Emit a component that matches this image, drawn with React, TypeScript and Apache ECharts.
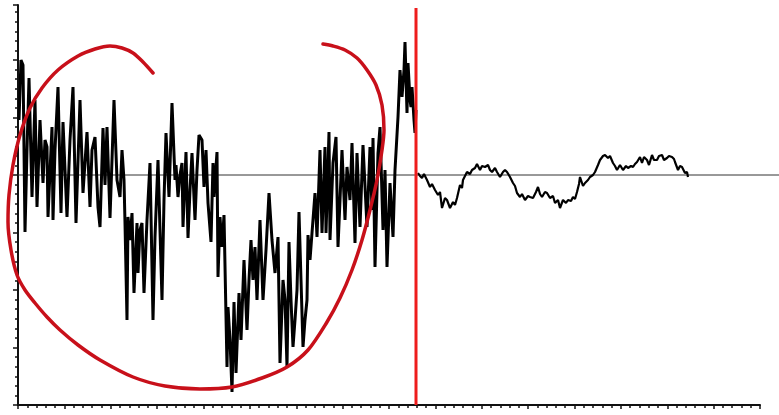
import React, { useEffect, useRef } from "react";
import * as echarts from "echarts";

// Noisy segment (before the red marker)
const leftX = [1,3,5,7,9,11,14,17,19,22,25,27,29,30,34,35,37,40,43,45,47,49,52,55,58,62,65,69,72,74,77,80,82,85,87,89,92,94,96,99,102,104,106,107,109,110,112,114,116,119,120,122,124,126,129,132,135,137,140,142,144,146,148,151,154,157,158,160,162,164,165,168,170,172,174,177,179,181,184,186,188,190,193,195,196,199,200,202,204,206,209,210,212,214,216,218,221,223,226,229,231,233,235,237,239,242,245,248,251,254,257,260,262,265,267,269,271,273,275,277,279,281,283,285,287,289,290,292,294,297,299,302,304,307,308,311,312,315,318,320,322,324,327,329,332,334,337,339,342,345,349,352,354,355,357,360,362,365,367,369,372,375,377,380,382,384,386,387,389,390,392,393,394,396,397,398];
const leftY = [55,115,110,-57,25,97,-22,75,-32,55,-8,35,28,-42,48,-45,25,88,-38,53,5,-42,35,88,-48,75,-18,43,-32,25,38,-32,-52,47,-10,48,-43,15,75,-5,-22,25,-5,-48,-145,-42,-65,-38,-118,-48,-98,-55,-48,-118,-45,12,-145,-62,15,-55,-125,-25,42,-22,72,-5,10,-22,0,12,-52,23,-63,-15,22,-45,5,40,35,-12,25,-28,-67,12,-22,23,-102,-42,-72,-40,-192,-132,-165,-217,-127,-198,-118,-165,-85,-155,-105,-65,-105,-72,-125,-45,-125,-75,-18,-65,-98,-62,-188,-105,-125,-192,-67,-125,-172,-145,-115,-37,-105,-172,-145,-125,-60,-85,-58,-18,-62,25,-58,28,-58,43,-65,12,38,-72,-25,25,-45,8,-25,32,-68,22,-52,30,-52,28,-35,37,-92,22,48,-55,5,-92,-8,-62,5,58,105,78,105,133,62,112,75,68,88,55,42,65];

// Smoother segment (after the red marker)
const rightX = [400,402,404,406,409,412,414,417,420,422,424,427,429,432,435,437,439,442,444,445,449,452,454,457,459,462,464,467,470,472,474,477,479,482,485,487,489,492,495,497,499,502,504,507,510,512,515,518,520,522,524,527,529,532,535,537,540,542,545,548,550,553,555,557,559,561,562,565,567,570,572,575,577,580,582,585,587,590,592,595,597,599,602,605,608,610,613,615,617,619,622,624,626,629,631,634,636,639,641,644,646,649,651,654,656,657,660,662,664,666,667,669,670];
const rightY = [2,-1,-3,1,-5,-12,-9,-15,-20,-17,-33,-23,-25,-33,-27,-30,-23,-10,-13,-5,3,1,5,7,11,5,9,8,10,5,3,7,3,-2,3,5,3,-2,-8,-11,-18,-22,-19,-25,-21,-22,-23,-17,-12,-19,-22,-17,-18,-23,-21,-28,-25,-33,-25,-28,-25,-26,-22,-24,-17,-9,-2,-11,-8,-5,-2,0,3,10,15,19,20,17,19,12,9,5,10,5,9,7,9,8,11,13,18,12,18,15,10,20,15,15,19,20,15,17,19,18,16,13,5,9,8,4,2,3,-2];

// Red hand-drawn annotation loop
const loopX = [135,125,115,104,92,77,60,40,24,12,2,-5,-9,-10,-7,-1,7,17,29,42,60,82,115,147,182,214,244,269,290,309,322,334,344,352,359,364,366,364,358,349,339,327,315,305];
const loopY = [102,113,122,127,129,126,119,105,87,67,40,10,-20,-47,-75,-100,-115,-128,-142,-155,-170,-185,-202,-211,-214,-212,-203,-192,-175,-147,-123,-95,-65,-35,-5,25,45,70,90,105,117,125,129,131];

// Red vertical marker and zero baseline
const markerX = [398, 398];
const markerY = [-230, 167];
const baseX = [0, 761];
const baseY = [0, 0];

const zip = (xs: number[], ys: number[]) => xs.map((x, i) => [x, ys[i]]);

export default function App() {
  const ref = useRef<HTMLDivElement>(null);
  useEffect(() => {
    if (!ref.current) return;
    const chart = echarts.init(ref.current, null, { renderer: "svg" });
    const hiddenAxis = {
      type: "value",
      show: false,
      axisLine: { show: false },
      axisTick: { show: false },
      axisLabel: { show: false },
      splitLine: { show: false },
    };
    chart.setOption({
      animation: false,
      backgroundColor: "#ffffff",
      grid: [
        { left: 18, right: 19, top: 5, bottom: 10, outerBoundsMode: "none" },
        { left: 0, right: 0, top: 0, bottom: 0, outerBoundsMode: "none" },
      ],
      xAxis: [
        {
          type: "value",
          gridIndex: 0,
          min: 0,
          max: 742,
          interval: 46.375,
          axisLine: { show: true, onZero: false, lineStyle: { color: "#111", width: 2 } },
          axisTick: { show: true, length: 4, lineStyle: { color: "#111", width: 1.5 } },
          minorTick: { show: true, splitNumber: 5, length: 3, lineStyle: { color: "#111", width: 1.5 } },
          axisLabel: { show: false },
          splitLine: { show: false },
        },
        { ...hiddenAxis, gridIndex: 1, min: -18, max: 761 },
      ],
      yAxis: [
        {
          type: "value",
          gridIndex: 0,
          min: -230,
          max: 170,
          interval: 57.5,
          axisLine: { show: true, onZero: false, lineStyle: { color: "#111", width: 2 } },
          axisTick: { show: true, length: 5, lineStyle: { color: "#111", width: 1.5 } },
          minorTick: { show: true, splitNumber: 6, length: 3, lineStyle: { color: "#111", width: 1.5 } },
          axisLabel: { show: false },
          splitLine: { show: false },
        },
        { ...hiddenAxis, gridIndex: 1, min: -240, max: 175 },
      ],
      series: [
        {
          type: "line",
          xAxisIndex: 1,
          yAxisIndex: 1,
          data: zip(baseX, baseY),
          symbol: "none",
          silent: true,
          lineStyle: { color: "#333", width: 1 },
        },
        {
          type: "line",
          data: zip(leftX, leftY),
          symbol: "none",
          lineStyle: { color: "#000", width: 3 },
        },
        {
          type: "line",
          data: zip(rightX, rightY),
          symbol: "none",
          lineStyle: { color: "#000", width: 2.2 },
        },
        {
          type: "line",
          data: zip(markerX, markerY),
          symbol: "none",
          lineStyle: { color: "#ee1c1c", width: 3 },
        },
        {
          type: "line",
          xAxisIndex: 1,
          yAxisIndex: 1,
          data: zip(loopX, loopY),
          symbol: "none",
          smooth: 0.3,
          lineStyle: { color: "#c8101a", width: 3.5, cap: "round" },
        },
      ],
    });
    return () => chart.dispose();
  }, []);
  return (
    <div
      ref={ref}
      style={{ position: "fixed", left: 0, top: 0, width: 779, height: 415, background: "#fff" }}
    />
  );
}
